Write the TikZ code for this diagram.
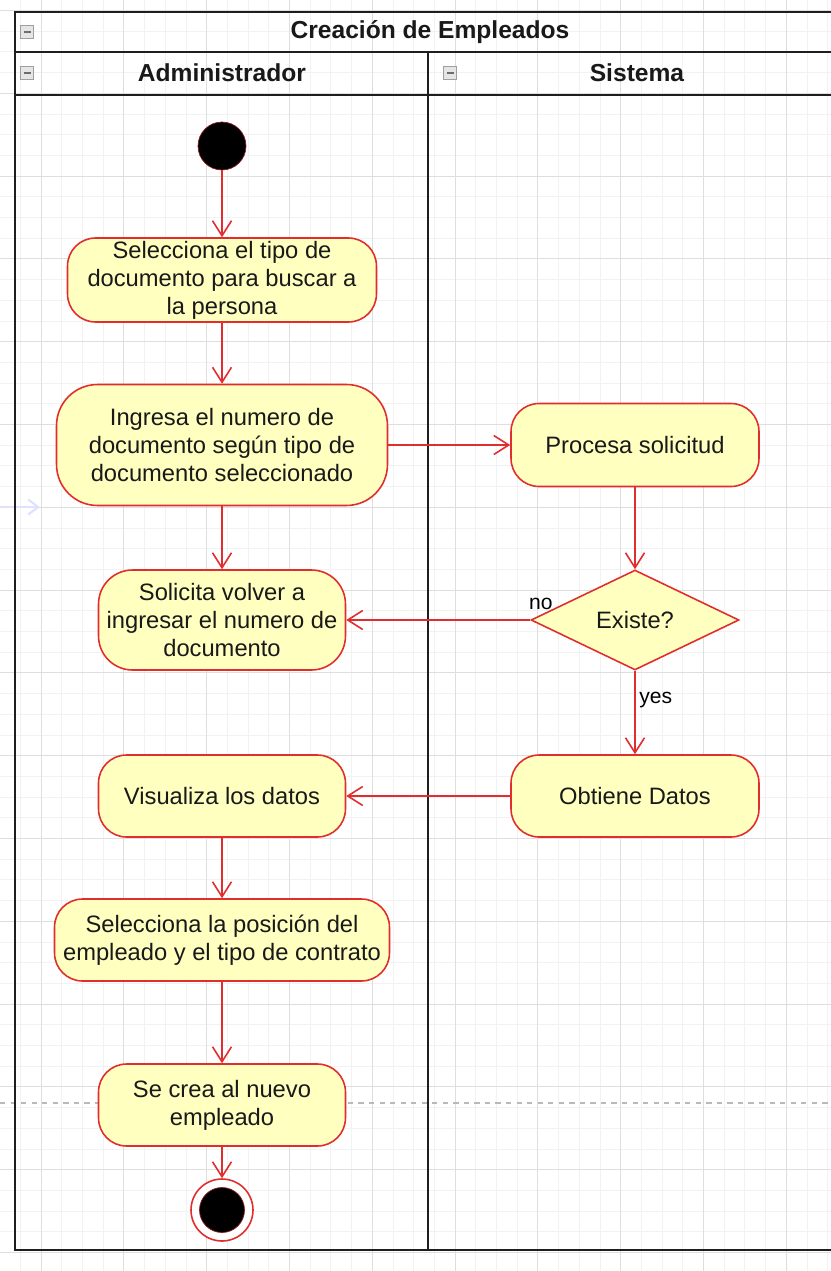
\documentclass[tikz,border=0pt]{standalone}
\usepackage{fontspec}
\setmainfont{Liberation Sans}
\usetikzlibrary{arrows.meta,shapes.geometric}

\definecolor{actfill}{RGB}{255,255,192}
\definecolor{actline}{RGB}{225,45,45}
\definecolor{poolline}{RGB}{30,30,30}
\definecolor{gridminor}{RGB}{242,242,242}
\definecolor{gridmajor}{RGB}{222,222,222}

\tikzset{
  act/.style={draw=actline, fill=actfill, line width=0.9pt, align=center, inner sep=0pt,
    font=\fontsize{13.5}{16}\selectfont, text=black!90},
  flow/.style={draw=actline, line width=0.9pt, -{Straight Barb[length=0.3cm,width=0.38cm]}},
  minusbox/.style={draw=gray!75, fill=gray!20, minimum size=0.25cm, inner sep=0pt, line width=0.5pt},
  lanetitle/.style={font=\bfseries\fontsize{14}{16}\selectfont, text=black!90}
}

\begin{document}
\begin{tikzpicture}[x=0.02cm,y=-0.02cm]
    \useasboundingbox (0,0) rectangle (831,1271);
    \fill[white] (0,0) rectangle (831,1271);
    \clip (0,0) rectangle (831,1271);
    % grid
    \foreach \i in {0,...,41} \draw[gridminor,line width=0.4pt] ({\i*20.7-0.4},0) -- ({\i*20.7-0.4},1271);
    \foreach \j in {0,...,62} \draw[gridminor,line width=0.4pt] (0,{\j*20.7-10.3}) -- (831,{\j*20.7-10.3});
    \foreach \i in {0,...,10} \draw[gridmajor,line width=0.5pt] ({\i*82.8+41},0) -- ({\i*82.8+41},1271);
    \foreach \j in {0,...,15} \draw[gridmajor,line width=0.5pt] (0,{\j*82.8+10.4}) -- (831,{\j*82.8+10.4});
    \draw[gray!55,line width=0.6pt,dash pattern=on 3pt off 3pt] (0,1103) -- (831,1103); % page break
    \coordinate (stubA) at (0,507);
    \coordinate (stubB) at (40,507);
    \draw[blue!12,line width=1.2pt,-{Straight Barb[length=0.2cm,width=0.3cm]}] (stubA) -- (stubB);

    % pool
    \draw[poolline,line width=1.1pt] (15,12) rectangle (845,1250);
    \draw[poolline,line width=1.1pt] (15,52) -- (845,52);
    \draw[poolline,line width=1.1pt] (15,95) -- (845,95);
    \draw[poolline,line width=0.9pt] (428,52) -- (428,1250);
    \node[lanetitle] (pool) at (430,32) {Creación de Empleados};
    \node[lanetitle] (admin) at (222,73) {Administrador};
    \node[lanetitle] (sist) at (637,73) {Sistema};
    \foreach \p in {(27,32),(27,73),(450,73)} {
      \node[minusbox] at \p {};
      \draw[gray!85!black,line width=0.8pt] \p ++(-3.5,0) -- ++(7,0);
    }

    % actividades
    \node[circle, fill=black, draw=actline!60!black, minimum size=0.96cm, inner sep=0pt] (ini) at (222,146) {};
    \node[act, minimum width=6.18cm, minimum height=1.68cm, rounded corners=0.56cm] (tipo) at (222,280)
      {Selecciona el tipo de\\documento para buscar a\\la persona};
    \node[act, minimum width=6.62cm, minimum height=2.42cm, rounded corners=0.82cm] (ingresa) at (222,445)
      {Ingresa el numero de\\documento según tipo de\\documento seleccionado};
    \node[act, minimum width=4.96cm, minimum height=1.66cm, rounded corners=0.56cm] (procesa) at (635,445)
      {Procesa solicitud};
    \node[act, diamond, aspect=2.08, minimum width=4.16cm, minimum height=2cm, rounded corners=0pt] (existe) at (635,620)
      {Existe?};
    \node[act, minimum width=4.94cm, minimum height=2cm, rounded corners=0.68cm] (solicita) at (222,620)
      {Solicita volver a\\ingresar el numero de\\documento};
    \node[act, minimum width=4.96cm, minimum height=1.64cm, rounded corners=0.56cm] (obtiene) at (635,796)
      {Obtiene Datos};
    \node[act, minimum width=4.94cm, minimum height=1.64cm, rounded corners=0.56cm] (visual) at (222,796)
      {Visualiza los datos};
    \node[act, minimum width=6.7cm, minimum height=1.64cm, rounded corners=0.56cm] (posicion) at (222,940)
      {Selecciona la posición del\\empleado y el tipo de contrato};
    \node[act, minimum width=4.94cm, minimum height=1.64cm, rounded corners=0.56cm] (crea) at (222,1105)
      {Se crea al nuevo\\empleado};
    \node[circle, fill=white, draw=actline, line width=0.9pt, minimum size=1.24cm, inner sep=0pt] (fin) at (222,1210) {};
    \node[circle, fill=black, draw=actline!60!black, minimum size=0.9cm, inner sep=0pt] (finin) at (fin) {};

    % flujos
    \draw[flow] (ini) -- (tipo);
    \draw[flow] (tipo) -- (ingresa);
    \draw[flow] (ingresa) -- (procesa);
    \draw[flow] (procesa) -- (existe);
    \draw[flow] (existe) -- node[pos=0, anchor=south west, xshift=-0.04cm, yshift=0.2cm, font=\fontsize{12}{14}\selectfont, inner sep=0pt] {no} (solicita);
    \draw[flow] (existe) -- node[pos=0.35, right, font=\fontsize{12}{14}\selectfont, inner sep=2pt] {yes} (obtiene);
    \draw[flow] (ingresa) -- (solicita);
    \draw[flow] (obtiene) -- (visual);
    \draw[flow] (visual) -- (posicion);
    \draw[flow] (posicion) -- (crea);
    \draw[flow] (crea) -- (fin);
\end{tikzpicture}
\end{document}
